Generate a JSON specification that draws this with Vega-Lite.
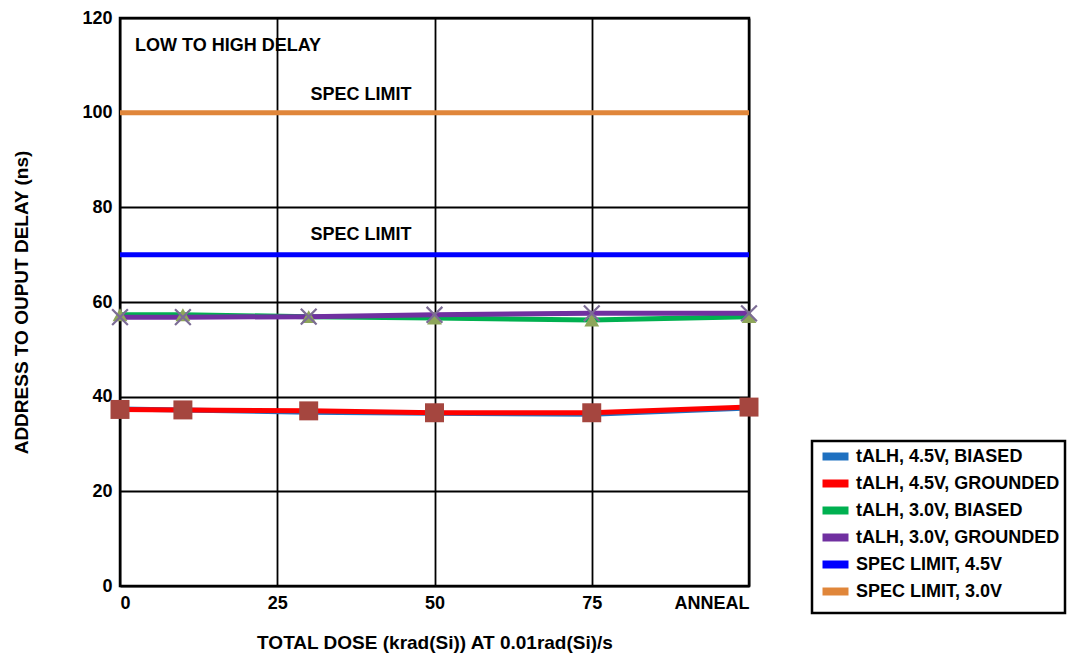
{
  "$schema": "https://vega.github.io/schema/vega-lite/v6.json",
  "autosize": "none",
  "width": 629,
  "height": 568,
  "padding": {"left": 120, "top": 18, "right": 318, "bottom": 67},
  "background": "white",
  "datasets": {
    "series": [
      {"series": "SPEC LIMIT, 3.0V", "dose": 0, "delay": 100},
      {"series": "SPEC LIMIT, 3.0V", "dose": 100, "delay": 100},
      {"series": "SPEC LIMIT, 4.5V", "dose": 0, "delay": 70},
      {"series": "SPEC LIMIT, 4.5V", "dose": 100, "delay": 70},
      {"series": "tALH, 4.5V, BIASED", "dose": 0, "delay": 37.4},
      {"series": "tALH, 4.5V, BIASED", "dose": 10, "delay": 37.2},
      {"series": "tALH, 4.5V, BIASED", "dose": 30, "delay": 36.7},
      {"series": "tALH, 4.5V, BIASED", "dose": 50, "delay": 36.5},
      {"series": "tALH, 4.5V, BIASED", "dose": 75, "delay": 36.3},
      {"series": "tALH, 4.5V, BIASED", "dose": 100, "delay": 37.6},
      {"series": "tALH, 4.5V, GROUNDED", "dose": 0, "delay": 37.3},
      {"series": "tALH, 4.5V, GROUNDED", "dose": 10, "delay": 37.2},
      {"series": "tALH, 4.5V, GROUNDED", "dose": 30, "delay": 37.0},
      {"series": "tALH, 4.5V, GROUNDED", "dose": 50, "delay": 36.6},
      {"series": "tALH, 4.5V, GROUNDED", "dose": 75, "delay": 36.6},
      {"series": "tALH, 4.5V, GROUNDED", "dose": 100, "delay": 37.8},
      {"series": "tALH, 3.0V, BIASED", "dose": 0, "delay": 57.3},
      {"series": "tALH, 3.0V, BIASED", "dose": 10, "delay": 57.3},
      {"series": "tALH, 3.0V, BIASED", "dose": 30, "delay": 56.9},
      {"series": "tALH, 3.0V, BIASED", "dose": 50, "delay": 56.6},
      {"series": "tALH, 3.0V, BIASED", "dose": 75, "delay": 56.2},
      {"series": "tALH, 3.0V, BIASED", "dose": 100, "delay": 56.9},
      {"series": "tALH, 3.0V, GROUNDED", "dose": 0, "delay": 56.8},
      {"series": "tALH, 3.0V, GROUNDED", "dose": 10, "delay": 56.8},
      {"series": "tALH, 3.0V, GROUNDED", "dose": 30, "delay": 56.9},
      {"series": "tALH, 3.0V, GROUNDED", "dose": 50, "delay": 57.3},
      {"series": "tALH, 3.0V, GROUNDED", "dose": 75, "delay": 57.6},
      {"series": "tALH, 3.0V, GROUNDED", "dose": 100, "delay": 57.6}
    ],
    "notes": [
      {"label": "LOW TO HIGH DELAY", "dose": 2.4, "delay": 113.0},
      {"label": "SPEC LIMIT", "dose": 30.3, "delay": 102.6},
      {"label": "SPEC LIMIT", "dose": 30.3, "delay": 73.1}
    ]
  },
  "layer": [
    {
      "data": {"name": "series"},
      "mark": {"type": "line", "strokeCap": "butt", "strokeWidth": 5},
      "encoding": {
        "x": {
          "field": "dose", "type": "quantitative",
          "scale": {"domain": [0, 100], "nice": false, "zero": false},
          "axis": {
            "values": [0, 25, 50, 75, 100],
            "labelExpr": "datum.value == 100 ? 'ANNEAL' : datum.label",
            "title": "TOTAL DOSE (krad(Si)) AT 0.01rad(Si)/s",
            "titlePadding": 21,
            "labelPadding": 8
          }
        },
        "y": {
          "field": "delay", "type": "quantitative",
          "scale": {"domain": [0, 120], "nice": false},
          "axis": {
            "values": [0, 20, 40, 60, 80, 100, 120],
            "title": "ADDRESS TO OUPUT DELAY (ns)",
            "titlePadding": 50,
            "labelPadding": 8
          }
        },
        "color": {
          "field": "series", "type": "nominal",
          "scale": {
            "domain": ["tALH, 4.5V, BIASED", "tALH, 4.5V, GROUNDED", "tALH, 3.0V, BIASED", "tALH, 3.0V, GROUNDED", "SPEC LIMIT, 4.5V", "SPEC LIMIT, 3.0V"],
            "range": ["#1E70C0", "#FF0000", "#00B050", "#7030A0", "#0000FF", "#E0863A"]
          },
          "legend": {
            "title": null,
            "orient": "none",
            "legendX": 692,
            "legendY": 423,
            "padding": 5,
            "strokeColor": "black",
            "fillColor": "white",
            "symbolType": "M-2,0H2",
            "symbolSize": 169,
            "symbolStrokeWidth": 8,
            "symbolOffset": 8,
            "labelFont": "Liberation Sans",
            "labelFontWeight": "bold",
            "labelFontSize": 18,
            "labelColor": "black",
            "labelLimit": 400,
            "labelOffset": 10,
            "rowPadding": -16,
            "symbolOpacity": 1
          }
        }
      }
    },
    {
      "data": {"name": "series"},
      "transform": [{"filter": "indexof(datum.series, 'SPEC') < 0"}],
      "mark": {"type": "point", "filled": true, "opacity": 1},
      "encoding": {
        "x": {"field": "dose", "type": "quantitative"},
        "y": {"field": "delay", "type": "quantitative"},
        "fill": {
          "field": "series", "type": "nominal",
          "scale": {
            "domain": ["tALH, 4.5V, BIASED", "tALH, 4.5V, GROUNDED", "tALH, 3.0V, BIASED", "tALH, 3.0V, GROUNDED"],
            "range": ["#4A7EBB", "#A5463F", "#8EA65A", "#7C6C95"]
          },
          "legend": null
        },
        "shape": {
          "field": "series", "type": "nominal",
          "scale": {
            "domain": ["tALH, 4.5V, BIASED", "tALH, 4.5V, GROUNDED", "tALH, 3.0V, BIASED", "tALH, 3.0V, GROUNDED"],
            "range": ["diamond", "square", "triangle-up", "M-1,-0.82L-0.82,-1L0,-0.18L0.82,-1L1,-0.82L0.18,0L1,0.82L0.82,1L0,0.18L-0.82,1L-1,0.82L-0.18,0Z"]
          },
          "legend": null
        },
        "size": {
          "field": "series", "type": "nominal",
          "scale": {
            "type": "ordinal",
            "domain": ["tALH, 4.5V, BIASED", "tALH, 4.5V, GROUNDED", "tALH, 3.0V, BIASED", "tALH, 3.0V, GROUNDED"],
            "range": [70, 360, 220, 300]
          },
          "legend": null
        }
      }
    },
    {
      "data": {"name": "notes"},
      "mark": {"type": "text", "align": "left", "baseline": "alphabetic", "font": "Liberation Sans", "fontWeight": "bold", "fontSize": 18, "color": "black"},
      "encoding": {
        "x": {"field": "dose", "type": "quantitative"},
        "y": {"field": "delay", "type": "quantitative"},
        "text": {"field": "label"}
      }
    }
  ],
  "config": {
    "view": {"stroke": "black", "strokeWidth": 2.5},
    "legend": {"strokeWidth": 2.5},
    "axis": {
      "domain": false,
      "ticks": false,
      "grid": true,
      "gridColor": "black",
      "gridWidth": 1.8,
      "gridOpacity": 1,
      "labelFont": "Liberation Sans",
      "labelFontWeight": "bold",
      "labelFontSize": 18,
      "labelColor": "black",
      "titleFont": "Liberation Sans",
      "titleFontWeight": "bold",
      "titleFontSize": 19,
      "titleColor": "black"
    }
  }
}
